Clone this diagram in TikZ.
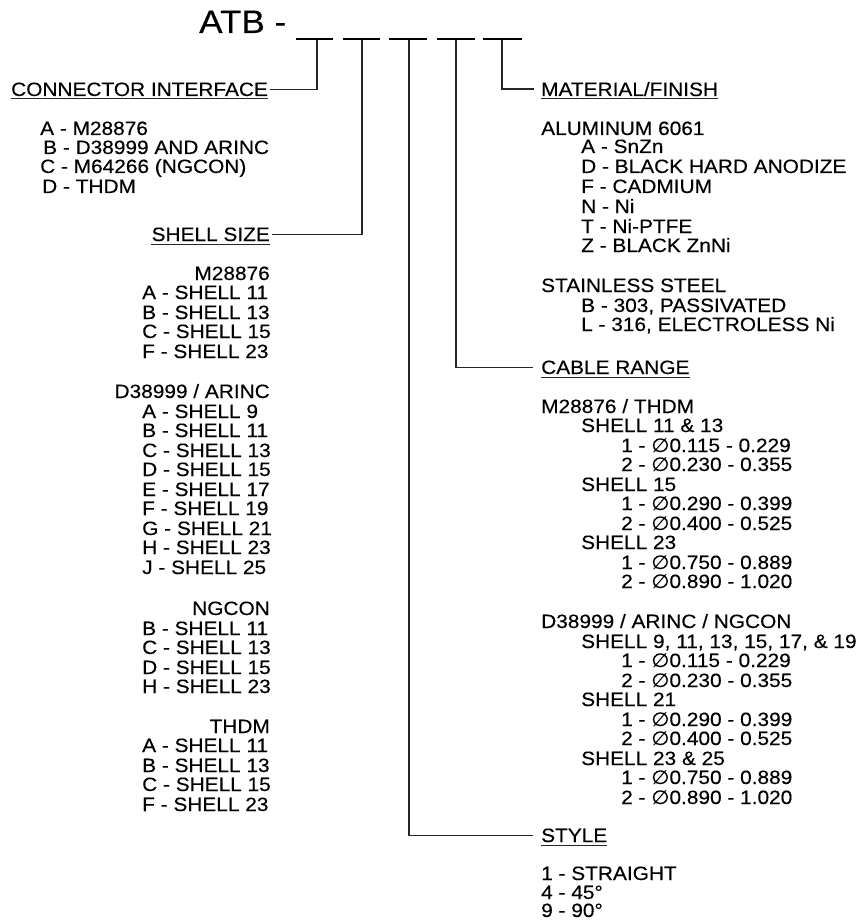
\documentclass[tikz,border=0pt]{standalone}
\usepackage{fontspec}
\setmainfont{Liberation Sans}[FakeStretch=1.08, FakeBold=0.3]
\newfontfamily\symf{DejaVu Sans}[FakeStretch=1.08, FakeBold=0.3]
\newcommand{\dia}{{\symf ∅}}
\begin{document}
\begin{tikzpicture}[x=1pt,y=-1pt,
  txt/.style={font=\fontsize{19.3}{19.5}\selectfont, inner sep=0pt, text=black},
  lab/.style={txt, text depth=0pt},
  conn/.style={draw=black!85, line width=1.1pt},
  uline/.style={draw=black!85, line width=1pt},
  blank/.style={draw=black, line width=2.4pt}]
\useasboundingbox (0,0) rectangle (861,920);

% title and blanks
\node[font=\fontsize{32.5}{34}\selectfont, inner sep=0pt, anchor=base west] (title) at (199,33) {ATB -};
\draw[blank] (296,39) -- (333,39);
\draw[blank] (343,39) -- (380,39);
\draw[blank] (389,39) -- (427,39);
\draw[blank] (437,39) -- (475,39);
\draw[blank] (483,39) -- (522,39);
\coordinate (d1) at (317,40);
\coordinate (d2) at (362,40);
\coordinate (d3) at (409,40);
\coordinate (d4) at (456,40);
\coordinate (d5) at (502,40);

% labels
\node[lab, anchor=base west] (ci) at (11,96) {CONNECTOR INTERFACE};
\node[lab, anchor=base east] (ss) at (270,241) {SHELL SIZE};
\node[lab, anchor=base west] (mf) at (541,96) {MATERIAL/FINISH};
\node[lab, anchor=base west] (cr) at (541,374) {CABLE RANGE};
\node[lab, anchor=base west] (st) at (541,842) {STYLE};
\foreach \n in {ci,ss,mf,cr,st}
  \draw[uline] ([yshift=-3pt]\n.base west) -- ([yshift=-3pt]\n.base east);

% connectors
\draw[conn] (d1) |- ([xshift=2pt]ci.east);
\draw[conn] (d2) |- ([xshift=2pt]ss.east);
\draw[conn] (d3) |- ([xshift=-8pt]st.west);
\draw[conn] (d4) |- ([xshift=-8pt]cr.west);
\draw[conn] (d5) |- ([xshift=-7pt]mf.west);

% connector interface list
\foreach \py/\px/\ptext [count=\i] in {
  135/40/{A - M28876}, 154/43/{B - D38999 AND ARINC},
  173/40/{C - M64266 (NGCON)}, 193/42/{D - THDM}}
  \node[txt, anchor=base west] (L\i) at (\px,\py) {\ptext};

% shell size headers
\foreach \py/\ptext [count=\i] in {280/M28876, 398/{D38999 / ARINC}, 615/NGCON, 733/THDM}
  \node[txt, anchor=base east] (H\i) at (270,\py) {\ptext};

% shell size items
\foreach \py/\ptext [count=\i] in {
  299/{A - SHELL 11}, 319/{B - SHELL 13}, 338/{C - SHELL 15}, 358/{F - SHELL 23},
  418/{A - SHELL 9}, 437/{B - SHELL 11}, 457/{C - SHELL 13}, 476/{D - SHELL 15},
  496/{E - SHELL 17}, 515/{F - SHELL 19}, 535/{G - SHELL 21}, 554/{H - SHELL 23},
  574/{J - SHELL 25},
  635/{B - SHELL 11}, 654/{C - SHELL 13}, 674/{D - SHELL 15}, 693/{H - SHELL 23},
  752/{A - SHELL 11}, 772/{B - SHELL 13}, 791/{C - SHELL 15}, 811/{F - SHELL 23}}
  \node[txt, anchor=base west] (S\i) at (142,\py) {\ptext};

% right column
\foreach \py/\px/\ptext [count=\i] in {
  135/541/{ALUMINUM 6061},
  153/581/{A - SnZn}, 173/581/{D - BLACK HARD ANODIZE}, 193/581/{F - CADMIUM},
  213/581/{N - Ni}, 233/581/{T - Ni-PTFE}, 252/581/{Z - BLACK ZnNi},
  292/541/{STAINLESS STEEL},
  312/581/{B - 303, PASSIVATED}, 331/581/{L - 316, ELECTROLESS Ni},
  413/541/{M28876 / THDM},
  432/581/{SHELL 11 \& 13},
  452/621/{1 - \dia0.115 - 0.229}, 471/621/{2 - \dia0.230 - 0.355},
  491/581/{SHELL 15},
  510/621/{1 - \dia0.290 - 0.399}, 530/621/{2 - \dia0.400 - 0.525},
  549/581/{SHELL 23},
  569/621/{1 - \dia0.750 - 0.889}, 588/621/{2 - \dia0.890 - 1.020},
  628/541/{D38999 / ARINC / NGCON},
  648/581/{SHELL 9, 11, 13, 15, 17, \& 19},
  667/621/{1 - \dia0.115 - 0.229}, 687/621/{2 - \dia0.230 - 0.355},
  706/581/{SHELL 21},
  726/621/{1 - \dia0.290 - 0.399}, 745/621/{2 - \dia0.400 - 0.525},
  765/581/{SHELL 23 \& 25},
  784/621/{1 - \dia0.750 - 0.889}, 804/621/{2 - \dia0.890 - 1.020},
  880/541/{1 - STRAIGHT}, 899/541/{4 - 45°}, 917/541/{9 - 90°}}
  \node[txt, anchor=base west] (R\i) at (\px,\py) {\ptext};
\end{tikzpicture}
\end{document}
